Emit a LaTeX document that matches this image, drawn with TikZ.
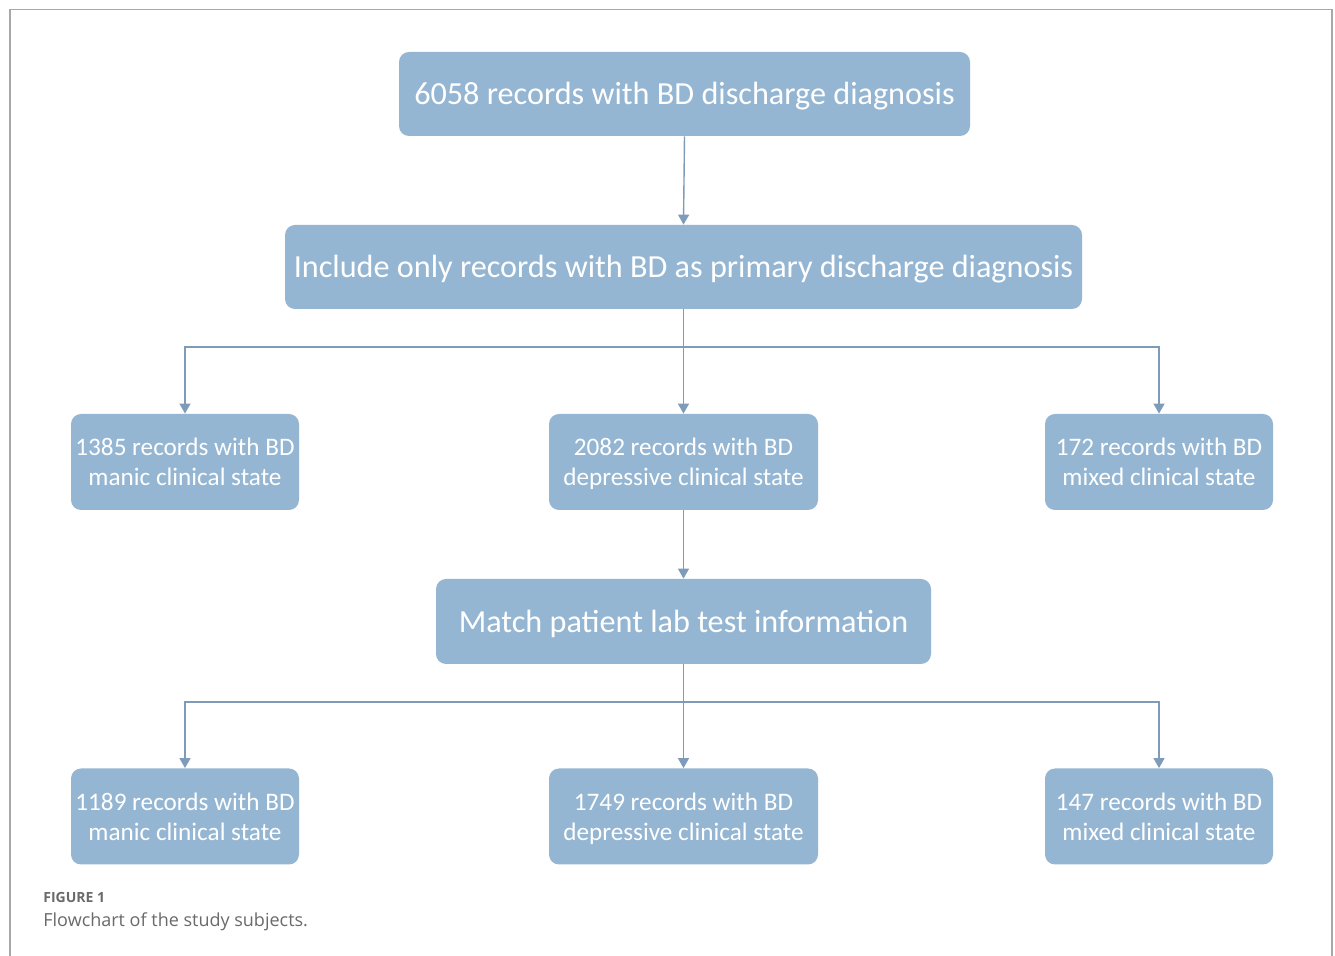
\documentclass[tikz,border=0pt]{standalone}
\usepackage{fontspec}
\setmainfont{Carlito}
\newfontfamily\capfont{Open Sans}
\usetikzlibrary{arrows.meta}
\definecolor{boxfill}{HTML}{94B6D3}
\definecolor{linec}{HTML}{7E9CBA}
\definecolor{framec}{HTML}{A8A8A8}
\definecolor{capc}{HTML}{6A6A6A}
\tikzset{
  flowbox/.style={draw=none, fill=boxfill, rounded corners=5pt, inner sep=0pt, align=center, text=white},
  bigbox/.style={flowbox, font=\fontsize{16.1pt}{19pt}\selectfont},
  smallbox/.style={flowbox, font=\fontsize{12.6pt}{15pt}\selectfont, minimum width=114pt, minimum height=48pt},
  conn/.style={draw=linec, line width=0.7pt, -{Triangle[length=5pt,width=5.5pt]}}
}
\newcommand{\tallstrut}{\rule[-.3\baselineskip]{0pt}{\dimexpr\baselineskip+3pt\relax}}
\newcommand{\twol}[2]{\tallstrut #1\\\strut #2}
\begin{document}
\begin{tikzpicture}[x=0.5pt,y=-0.5pt]
\useasboundingbox (0,0) rectangle (1335,956);
\fill[white] (0,0) rectangle (1335,956);
\draw[framec, line width=0.8pt] (10,962) -- (10,9.5) -- (1332,9.5) -- (1332,962);
% nodes
\node[bigbox, minimum width=285.5pt, minimum height=42pt] (a) at (684.5,94) {\tallstrut 6058 records with BD discharge diagnosis};
\node[bigbox, minimum width=398.5pt, minimum height=42pt] (b) at (683.5,267) {\tallstrut Include only records with BD as primary discharge diagnosis};
\node[smallbox] (c1) at (185,462) {\twol{1385 records with BD}{manic clinical state}};
\node[smallbox, minimum width=134.5pt] (c2) at (683.5,462) {\twol{2082 records with BD}{depressive clinical state}};
\node[smallbox] (c3) at (1159,462) {\twol{172 records with BD}{mixed clinical state}};
\node[bigbox, minimum width=247.5pt, minimum height=42.5pt] (m) at (683.5,621.5) {\tallstrut Match patient lab test information};
\node[smallbox] (d1) at (185,816.5) {\twol{1189 records with BD}{manic clinical state}};
\node[smallbox, minimum width=134.5pt] (d2) at (683.5,816.5) {\twol{1749 records with BD}{depressive clinical state}};
\node[smallbox] (d3) at (1159,816.5) {\twol{147 records with BD}{mixed clinical state}};
\coordinate (j1) at (683.5,347);
\coordinate (j2) at (683.5,702);
% connectors
\draw[conn] (a.south) -- (b.north);
\draw[conn] (b.south) -- (c2.north);
\draw[conn] (j1) -| (c1.north);
\draw[conn] (j1) -| (c3.north);
\draw[conn] (c2.south) -- (m.north);
\draw[conn] (m.south) -- (d2.north);
\draw[conn] (j2) -| (d1.north);
\draw[conn] (j2) -| (d3.north);
% caption
\node[anchor=base west, inner sep=0pt, text=capc, font=\capfont\bfseries\fontsize{7pt}{8pt}\selectfont] (f1) at (43,903) {FIGURE 1};
\node[anchor=base west, inner sep=0pt, text=capc, font=\capfont\fontsize{9pt}{10pt}\selectfont] (f2) at (43,927) {Flowchart of the study subjects.};
\end{tikzpicture}
\end{document}
